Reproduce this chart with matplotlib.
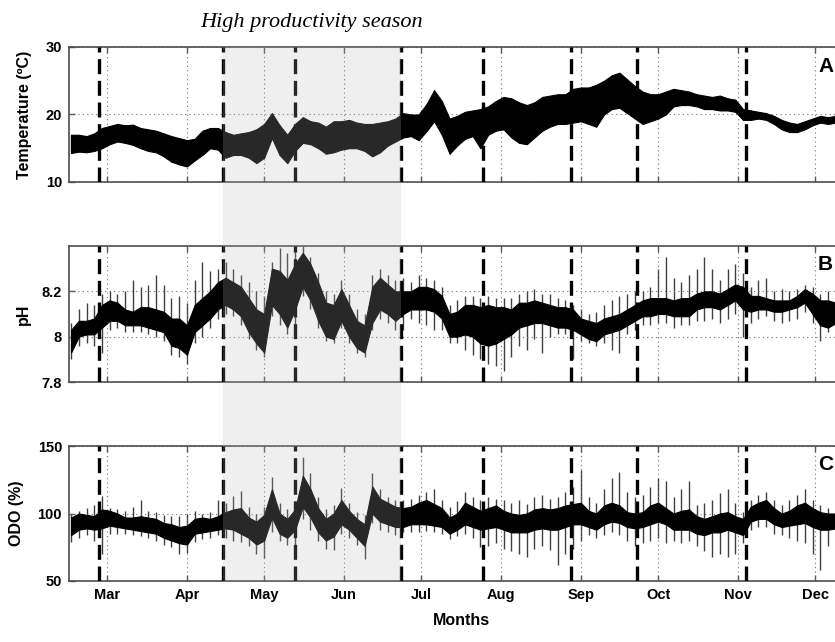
import matplotlib
matplotlib.use("Agg")
import matplotlib.pyplot as plt
import matplotlib.transforms as mtransforms
from matplotlib.patches import Rectangle
import numpy as np

# sample days (day of year), read every 3 days from the figure
days = np.arange(46, 344, 3)

# Temperature band (deg C)
temp_hi = [17.0, 17.0, 16.8, 17.2, 18.0, 18.3, 18.6, 18.4, 18.5, 18.0,
           17.8, 17.6, 17.2, 16.8, 16.5, 16.2, 16.4, 17.6, 18.0, 18.0,
           17.4, 17.0, 17.2, 17.4, 17.8, 18.6, 20.2, 18.4, 17.0, 18.6,
           19.6, 19.0, 18.8, 18.2, 19.0, 19.0, 19.2, 18.8, 18.6, 18.6,
           18.8, 19.0, 19.4, 20.2, 20.0, 20.0, 21.5, 23.6, 22.0, 19.4,
           19.8, 20.4, 20.6, 20.8, 21.2, 22.0, 22.6, 22.4, 21.8, 21.4,
           21.8, 22.6, 22.8, 23.0, 23.0, 23.8, 24.0, 24.0, 24.4, 25.0,
           25.8, 26.2, 25.2, 24.2, 23.4, 23.0, 23.0, 23.4, 23.8, 23.6,
           23.4, 23.0, 22.8, 22.6, 22.8, 22.4, 22.2, 20.8, 20.6, 20.4,
           20.2, 19.8, 19.2, 18.8, 18.6, 19.0, 19.4, 19.8, 19.6, 19.8]
temp_lo = [14.3, 14.5, 14.4, 14.6, 15.0, 15.6, 16.0, 15.8, 15.5, 15.0,
           14.6, 14.4, 13.8, 13.0, 12.6, 12.3, 13.2, 14.0, 15.0, 14.8,
           13.6, 14.0, 14.0, 13.6, 12.8, 13.6, 16.5, 14.0, 12.8, 14.6,
           15.8, 15.6, 15.0, 14.2, 14.4, 14.8, 15.0, 15.0, 14.6, 13.8,
           14.4, 15.4, 16.0, 16.6, 16.8, 16.2, 17.5, 19.0, 17.0, 14.2,
           15.4, 16.4, 16.8, 15.0, 17.0, 17.6, 17.8, 16.6, 15.8, 15.6,
           16.6, 17.6, 18.2, 18.6, 18.6, 18.8, 19.0, 18.6, 18.2, 20.0,
           20.8, 21.0, 20.2, 19.4, 18.6, 19.0, 19.4, 20.0, 21.2, 21.4,
           21.4, 21.2, 20.8, 20.8, 20.6, 20.6, 20.4, 19.2, 19.2, 19.4,
           19.2, 18.6, 17.8, 17.4, 17.4, 17.8, 18.4, 18.8, 18.6, 18.8]

# pH: dense core band and the thin daily spikes
ph_hi = [8.03, 8.07, 8.07, 8.08, 8.14, 8.16, 8.15, 8.12, 8.11, 8.13,
         8.13, 8.12, 8.11, 8.08, 8.08, 8.05, 8.14, 8.17, 8.20, 8.24,
         8.26, 8.24, 8.22, 8.17, 8.12, 8.10, 8.30, 8.29, 8.25, 8.32,
         8.37, 8.32, 8.24, 8.15, 8.14, 8.21, 8.14, 8.07, 8.05, 8.22,
         8.26, 8.23, 8.20, 8.20, 8.20, 8.22, 8.22, 8.21, 8.18, 8.10,
         8.11, 8.14, 8.14, 8.13, 8.14, 8.13, 8.13, 8.12, 8.15, 8.15,
         8.16, 8.15, 8.14, 8.13, 8.13, 8.12, 8.08, 8.07, 8.06, 8.08,
         8.09, 8.10, 8.12, 8.14, 8.16, 8.17, 8.17, 8.17, 8.16, 8.17,
         8.17, 8.19, 8.20, 8.20, 8.19, 8.21, 8.23, 8.22, 8.18, 8.18,
         8.17, 8.16, 8.16, 8.16, 8.18, 8.21, 8.19, 8.16, 8.16, 8.15]
ph_lo = [7.93, 8.00, 8.01, 8.01, 8.04, 8.07, 8.07, 8.05, 8.05, 8.05,
         8.04, 8.03, 8.02, 7.96, 7.95, 7.92, 8.02, 8.05, 8.08, 8.12,
         8.14, 8.12, 8.09, 8.02, 7.97, 7.93, 8.14, 8.10, 8.04, 8.12,
         8.22, 8.16, 8.07, 8.00, 7.99, 8.07, 8.00, 7.95, 7.93, 8.06,
         8.12, 8.10, 8.07, 8.10, 8.12, 8.12, 8.12, 8.11, 8.08, 8.00,
         8.00, 8.01, 8.00, 7.97, 7.96, 7.97, 7.99, 8.01, 8.04, 8.05,
         8.06, 8.06, 8.05, 8.04, 8.04, 8.03, 8.01, 7.99, 7.98, 8.01,
         8.02, 8.03, 8.05, 8.07, 8.09, 8.09, 8.10, 8.10, 8.09, 8.09,
         8.09, 8.12, 8.13, 8.13, 8.12, 8.14, 8.16, 8.12, 8.11, 8.12,
         8.12, 8.11, 8.11, 8.12, 8.13, 8.15, 8.10, 8.05, 8.04, 8.06]
ph_spike_hi = [8.06, 8.12, 8.15, 8.14, 8.19, 8.20, 8.19, 8.20, 8.25, 8.22,
               8.23, 8.27, 8.23, 8.17, 8.18, 8.15, 8.25, 8.33, 8.29, 8.30,
               8.33, 8.30, 8.27, 8.24, 8.20, 8.18, 8.33, 8.39, 8.37, 8.39,
               8.40, 8.35, 8.28, 8.20, 8.19, 8.25, 8.19, 8.12, 8.10, 8.27,
               8.30, 8.27, 8.25, 8.26, 8.24, 8.27, 8.26, 8.25, 8.22, 8.14,
               8.16, 8.18, 8.18, 8.17, 8.18, 8.17, 8.17, 8.17, 8.19, 8.20,
               8.21, 8.19, 8.19, 8.17, 8.16, 8.14, 8.12, 8.10, 8.11, 8.14,
               8.16, 8.18, 8.19, 8.20, 8.20, 8.22, 8.30, 8.35, 8.26, 8.24,
               8.27, 8.30, 8.35, 8.30, 8.25, 8.30, 8.32, 8.28, 8.22, 8.25,
               8.26, 8.20, 8.21, 8.20, 8.21, 8.23, 8.22, 8.19, 8.20, 8.19]
ph_spike_lo = [7.90, 7.96, 7.97, 7.96, 7.93, 8.03, 8.04, 8.02, 8.02, 8.02,
               8.01, 8.00, 7.98, 7.92, 7.91, 7.88, 7.97, 8.00, 8.04, 8.08,
               8.10, 8.09, 8.05, 7.99, 7.94, 7.91, 8.09, 8.05, 8.01, 8.00,
               8.18, 8.12, 8.04, 7.98, 7.97, 8.04, 7.97, 7.93, 7.91, 8.03,
               8.08, 8.06, 8.03, 8.03, 8.08, 8.06, 8.05, 8.03, 8.03, 7.97,
               7.97, 7.94, 7.92, 7.90, 7.88, 7.87, 7.85, 7.91, 7.96, 7.94,
               7.99, 7.93, 8.00, 8.01, 8.01, 7.90, 7.98, 7.97, 7.96, 7.97,
               7.94, 7.93, 8.01, 8.03, 8.05, 8.05, 8.06, 8.06, 8.04, 8.05,
               8.05, 8.07, 8.07, 8.08, 8.06, 8.08, 8.10, 8.00, 8.06, 8.08,
               8.09, 8.07, 8.06, 8.07, 8.08, 8.11, 8.06, 7.98, 8.02, 8.03]

# dissolved oxygen saturation (%)
odo_hi = [97, 100, 99, 98, 103, 102, 100, 97, 97, 98,
          97, 96, 93, 92, 90, 91, 96, 97, 96, 98,
          101, 103, 104, 97, 94, 99, 118, 100, 96, 103,
          128, 118, 104, 96, 100, 110, 102, 96, 92, 120,
          111, 108, 105, 104, 105, 108, 110, 107, 104, 97,
          100, 108, 105, 102, 104, 106, 102, 100, 99, 100,
          103, 104, 103, 104, 106, 107, 108, 102, 100, 106,
          108, 106, 101, 100, 101, 106, 108, 104, 100, 102,
          103, 98, 96, 98, 100, 101, 98, 96, 105, 108,
          110, 104, 100, 102, 106, 108, 104, 101, 100, 100]
odo_lo = [84, 88, 89, 88, 89, 91, 90, 89, 88, 87,
          86, 85, 82, 80, 78, 77, 85, 86, 87, 88,
          89, 88, 85, 82, 77, 80, 97, 85, 82, 88,
          105, 97, 86, 80, 83, 92, 88, 82, 76, 100,
          94, 92, 90, 90, 92, 92, 92, 91, 90, 85,
          88, 92, 90, 88, 89, 90, 88, 86, 86, 86,
          88, 89, 88, 88, 90, 92, 92, 90, 88, 92,
          94, 93, 90, 89, 90, 92, 94, 92, 88, 88,
          88, 85, 84, 86, 86, 88, 86, 84, 94, 96,
          96, 92, 90, 91, 92, 93, 90, 88, 88, 89]
odo_spike_hi = [100, 102, 104, 106, 113, 104, 103, 102, 105, 110,
                102, 101, 99, 98, 98, 100, 102, 100, 101, 110,
                108, 113, 117, 105, 100, 105, 127, 108, 103, 109,
                142, 130, 112, 103, 106, 119, 108, 101, 99, 130,
                118, 112, 110, 110, 111, 114, 116, 118, 110, 105,
                109, 116, 112, 110, 112, 111, 110, 108, 110, 107,
                112, 114, 111, 112, 116, 120, 132, 112, 108, 118,
                126, 131, 116, 112, 114, 120, 126, 124, 112, 118,
                124, 106, 108, 110, 115, 118, 108, 101, 110, 114,
                116, 110, 106, 110, 114, 118, 110, 106, 104, 104]
odo_spike_lo = [79, 82, 84, 80, 70, 85, 85, 85, 84, 83,
                82, 80, 77, 75, 70, 71, 79, 81, 82, 84,
                82, 80, 79, 76, 70, 67, 86, 80, 77, 75,
                96, 88, 80, 74, 73, 85, 82, 77, 66, 93,
                88, 86, 84, 86, 86, 86, 87, 86, 85, 81,
                83, 85, 82, 75, 76, 78, 74, 72, 70, 68,
                74, 76, 73, 62, 70, 74, 80, 84, 82, 84,
                86, 84, 80, 76, 78, 80, 82, 78, 80, 78,
                80, 76, 72, 68, 70, 68, 70, 78, 88, 90,
                90, 85, 84, 82, 80, 78, 70, 58, 76, 80]

# event days (dashed lines) and the high productivity season
event_days = [57, 105, 133, 174, 206, 240, 266, 308]
season = (105, 174)

month_starts = [60, 91, 121, 152, 182, 213, 244, 274, 305, 335]
month_labels = ["Mar", "Apr", "May", "Jun", "Jul", "Aug", "Sep", "Oct", "Nov", "Dec"]

plt.rcParams["font.family"] = ["Liberation Sans Narrow", "Liberation Sans", "DejaVu Sans"]

W, H = 835, 642
fig = plt.figure(figsize=(W / 100, H / 100), dpi=100)

panels = [
    dict(box=(47, 182), lo=temp_lo, hi=temp_hi, s_lo=temp_lo, s_hi=temp_hi,
         ylim=(10, 30), yticks=[10, 20, 30], yticklabels=["10", "20", "30"],
         ylabel="Temperature (ºC)", lab_x=25, letter="A"),
    dict(box=(246, 382), lo=ph_lo, hi=ph_hi, s_lo=ph_spike_lo, s_hi=ph_spike_hi,
         ylim=(7.8, 8.4), yticks=[7.8, 8.0, 8.2], yticklabels=["7.8", "8", "8.2"],
         ylabel="pH", lab_x=23, letter="B"),
    dict(box=(446, 581), lo=odo_lo, hi=odo_hi, s_lo=odo_spike_lo, s_hi=odo_spike_hi,
         ylim=(50, 150), yticks=[50, 100, 150], yticklabels=["50", "100", "150"],
         ylabel="ODO (%)", lab_x=17, letter="C"),
]

x0, x1 = 69, 854
axes = []
for i, p in enumerate(panels):
    top, bot = p["box"]
    ax = fig.add_axes([x0 / W, 1 - bot / H, (x1 - x0) / W, (bot - top) / H])
    ax.set_facecolor("none")
    # spikes go under the dense band so only the tips show
    ax.vlines(days, p["s_lo"], p["s_hi"], color="0.25", lw=1.0, zorder=1.5)
    ax.fill_between(days, p["lo"], p["hi"], facecolor="black", edgecolor="black",
                    lw=0.8, zorder=2)
    for d in event_days:
        ax.axvline(d, color="black", lw=2.4, ls=(0, (4.5, 2)), zorder=3)
    ax.set_xlim(45.2, 350.1)
    ax.set_ylim(*p["ylim"])
    ax.set_yticks(p["yticks"])
    ax.set_yticklabels(p["yticklabels"], fontweight="bold", fontsize=10.5)
    ax.set_xticks(month_starts)
    if i == 2:
        ax.set_xticklabels(month_labels, fontweight="bold", fontsize=10.5)
        ax.set_xlabel("Months", fontweight="bold", fontsize=11.5, labelpad=8)
    else:
        ax.set_xticklabels([])
    ax.tick_params(direction="in", length=4, width=1, color="0.35",
                   top=True, right=False, pad=5)
    ax.grid(True, color="0.45", lw=0.8, ls=(0, (1, 3)))
    for sp in ax.spines.values():
        sp.set_color("0.3")
        sp.set_linewidth(1.2)
    fig.text(p["lab_x"] / W, 1 - (top + bot) / 2 / H, p["ylabel"], rotation=90,
             ha="center", va="center", fontweight="bold", fontsize=11.5)
    ax.text(818 / W, 1 - (top + 19) / H, p["letter"], transform=fig.transFigure,
            ha="left", va="center", fontweight="bold", fontsize=15,
            family=["Liberation Sans", "DejaVu Sans"])
    axes.append(ax)

# shaded season spanning all three panels
trans = mtransforms.blended_transform_factory(axes[0].transData, fig.transFigure)
fig.patches.append(Rectangle((season[0], 1 - 581 / H), season[1] - season[0],
                             (581 - 47) / H, transform=trans, facecolor="#b8b8b8",
                             alpha=0.22, edgecolor="none", zorder=10))

cx = trans.transform(((season[0] + season[1]) / 2, 0))[0] / W
fig.text(cx, 1 - 22 / H, "High productivity season", ha="center", va="center",
         fontsize=16, style="italic", family=["Liberation Serif", "DejaVu Serif"])

fig.savefig("out.png", dpi=100)
